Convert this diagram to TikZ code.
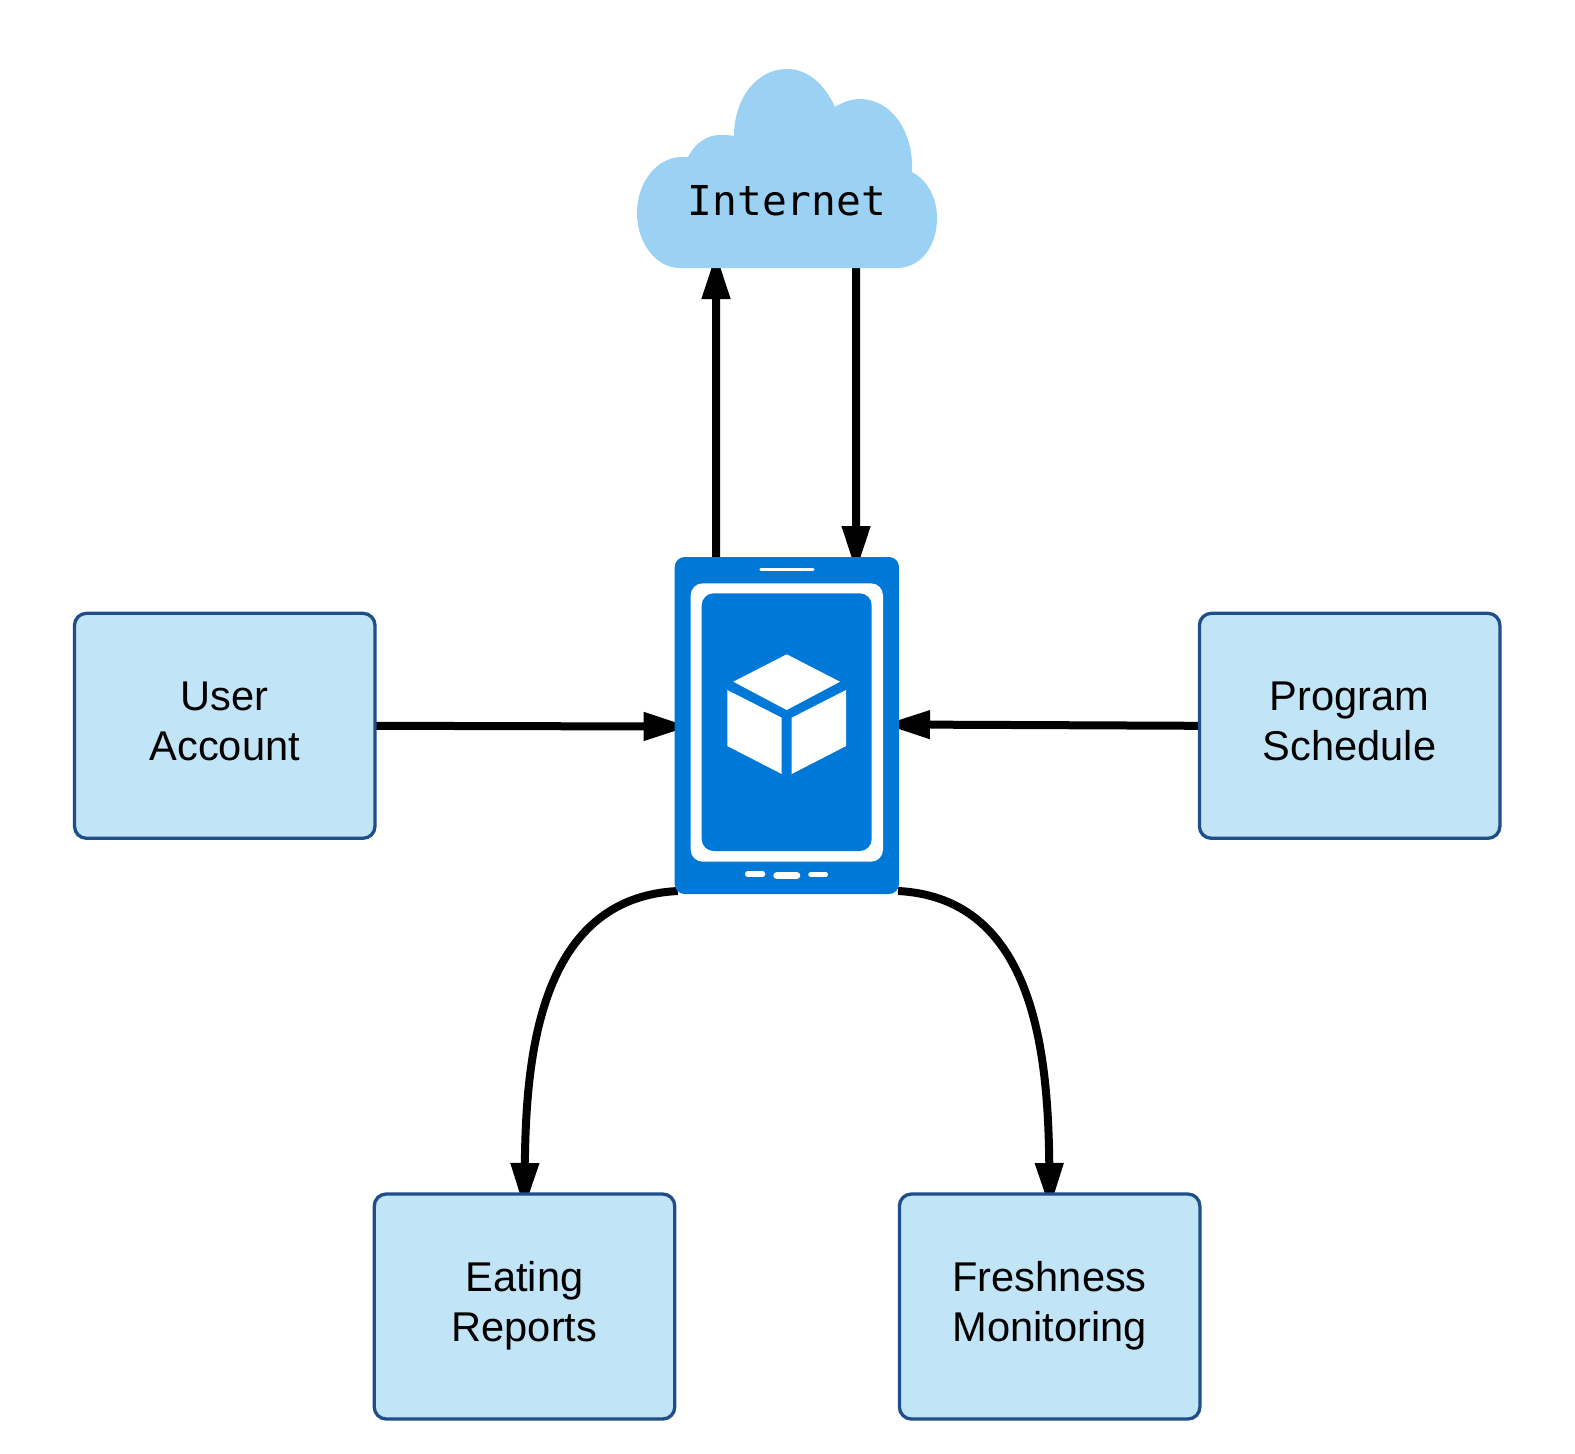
\documentclass[tikz,border=0pt]{standalone}
\usepackage{fontspec}
\setmainfont{Liberation Sans}
\newfontfamily\cloudmono{DejaVu Sans Mono}
\usetikzlibrary{arrows.meta,backgrounds}
\definecolor{boxfill}{HTML}{C1E4F7}
\definecolor{boxline}{HTML}{1F4E8A}
\definecolor{phoneblue}{HTML}{0078D7}
\definecolor{cloudblue}{HTML}{9BD2F4}
\tikzset{
  infobox/.style={draw=boxline,fill=boxfill,line width=1.65pt,rounded corners=6pt,
    minimum width=150.25pt,minimum height=112.5pt,inner sep=0pt,outer sep=0pt,
    align=center,text height=39pt,text depth=4.5pt,
    font=\fontsize{20.8}{24.75}\selectfont},
  hiddenbox/.style={inner sep=0pt,outer sep=0pt},
  flow/.style={draw=black,line width=4pt,-{Triangle[length=23pt,width=13.4pt]},shorten >=-7.5pt},
  phonebtn/.style={draw=white,line cap=round},
}
\begin{document}
\begin{tikzpicture}[x=0.5pt,y=-0.5pt]
\useasboundingbox (0,0) rectangle (1575,1453);

% cloud
\node[hiddenbox,minimum width=150pt,minimum height=99.5pt] (cloud) at (787,168.5) {};
\fill[cloudblue] (680,268) -- (897,268)
  .. controls (920,268) and (937,247) .. (937,218)
  .. controls (937,197) and (927,180) .. (912,172)
  .. controls (914,130) and (890,99) .. (860,99)
  .. controls (851,99) and (843,102) .. (835,107)
  .. controls (824,83) and (807,69) .. (787,69)
  .. controls (757,69) and (734,98) .. (734,136)
  .. controls (730,135) and (725,135) .. (720,135)
  .. controls (707,135) and (695,143) .. (688,157)
  .. controls (686,157) and (684,157) .. (682,157)
  .. controls (657,157) and (637,182) .. (637,213)
  .. controls (637,243) and (656,268) .. (680,268) -- cycle;
\node[hiddenbox,anchor=base,font=\cloudmono\fontsize{20.6}{24}\selectfont] (internet) at (787,215) {Internet};

% phone
\node[hiddenbox,fill=phoneblue,rounded corners=5pt,minimum width=112.15pt,minimum height=168.5pt] (phone) at (786.85,725.5) {};
\fill[white,rounded corners=6pt] (690.7,583.3) rectangle (883,861.7);
\fill[phoneblue,rounded corners=6pt] (701.7,593.3) rectangle (871.7,851);
\draw[phonebtn,line width=1.5pt] (760.8,569.8) -- (813.2,569.8);
\draw[phonebtn,line width=2.7pt] (747.7,874) -- (762.6,874);
\draw[phonebtn,line width=3.6pt] (776.9,875.6) -- (796.7,875.6);
\draw[phonebtn,line width=2.2pt] (810.5,874.5) -- (825.8,874.5);
\fill[white] (786.7,654.3) -- (840,681.7) -- (786.7,710) -- (733.3,681.7) -- cycle;
\fill[white] (727.3,690) -- (781.7,717.7) -- (781.7,774) -- (727.3,746) -- cycle;
\fill[white] (846,690) -- (791.7,717.7) -- (791.7,774) -- (846,746) -- cycle;

% boxes
\node[infobox] (user) at (224.75,725.8) {User\\Account};
\node[infobox] (program) at (1349.65,725.8) {Program\\Schedule};
\node[infobox] (eating) at (524.5,1306.5) {Eating\\Reports};
\node[infobox] (fresh) at (1049.65,1306.5) {Freshness\\Monitoring};

% connectors
\begin{pgfonlayer}{background}
\draw[flow] ([xshift=-35.4pt]phone.north) -- ([xshift=-35.5pt]cloud.south);
\draw[flow] ([xshift=34.5pt]cloud.south) -- ([xshift=34.6pt]phone.north);
\draw[flow] (user.east) -- ([yshift=-0.5pt]phone.west);
\draw[flow] (program.west) -- ([yshift=0.5pt]phone.east);
\draw[flow] ([xshift=1.5pt,yshift=1.5pt]phone.south west)
  .. controls (538,898) and (526,1060) .. (eating.north);
\draw[flow] ([xshift=-0.5pt,yshift=1.5pt]phone.south east)
  .. controls (1037,898) and (1048,1060) .. (fresh.north);
\end{pgfonlayer}
\end{tikzpicture}
\end{document}
